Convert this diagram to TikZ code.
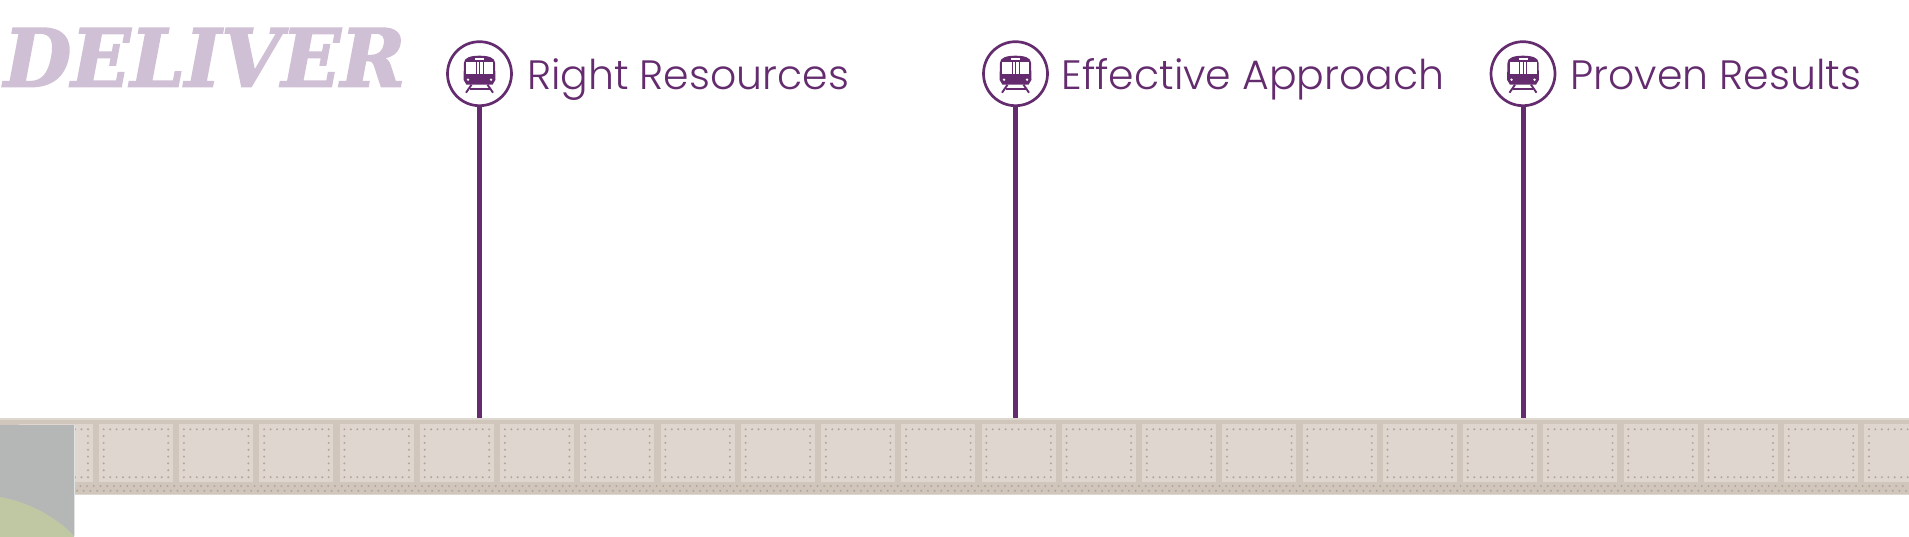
\documentclass[tikz,border=0pt]{standalone}
\usepackage{fontspec}
\newfontfamily\stopfont{Poppins Light}
\newfontfamily\slabfont[BoldItalicFeatures={FakeBold=2.2,FakeStretch=0.97}]{DejaVu Serif}
\usetikzlibrary{positioning}
\definecolor{plum}{HTML}{642C6E}
\definecolor{titlelilac}{HTML}{CFC0D5}
\definecolor{trackbase}{HTML}{D0C6BC}
\definecolor{trackpanel}{HTML}{DED6CF}
\definecolor{trackdot}{HTML}{B2A69A}
\definecolor{blockgrey}{HTML}{B5B7B7}
\definecolor{blockgreen}{HTML}{BFC8A3}

\begin{document}
\begin{tikzpicture}[
    x=1pt, y=-1pt,
    every node/.style={inner sep=0pt, outer sep=0pt},
    stopbox/.style={circle, draw=plum, line width=2.7pt, fill=white, minimum size=64pt},
    stoplabel/.style={font=\stopfont\fontsize{41}{41}\selectfont, text=plum, text height=40pt, text depth=8pt, anchor=west},
    stem/.style={plum, line width=5pt},
    rivets/.style={trackdot, line width=2.2pt, line cap=round},
    traintrain/.pic={
        \fill[plum] (-15.5,-11) .. controls (-15.5,-16) and (-9,-18) .. (0,-18) .. controls (9,-18) and (15.5,-16) .. (15.5,-11) -- (16,6) -- (13,11) -- (-13,11) -- (-16,6) -- cycle;
        \fill[white] (-13.5,-12) rectangle (-4,0);
        \fill[white] (-3,-12) rectangle (3,0);
        \fill[white] (4,-12) rectangle (13.5,0);
        \fill[plum] (-0.5,-12) rectangle (0.5,0);
        \fill[white] (-4.5,-15.8) rectangle (4.5,-13.6);
        \fill[white] (-11.5,6) circle (1.3);
        \fill[white] (11.5,6) circle (1.3);
        \draw[plum, line width=1.9pt] (-8,11) -- (-13.5,19);
        \draw[plum, line width=1.9pt] (8,11) -- (13.5,19);
        \draw[plum, line width=1.6pt] (-10,15.5) -- (10,15.5);
    }
]
\useasboundingbox (0,0) rectangle (1909,536);
\fill[white] (0,0) rectangle (1909,536);

% track
\node[rectangle, fill=trackbase, minimum width=1909pt, minimum height=77pt, anchor=north west] (track) at (0,418) {};
\fill[trackbase!70!white] (0,418) rectangle (1909,420);
\fill[trackbase!70!white] (0,493.5) rectangle (1909,495);
\foreach \i in {-1,...,23}{
    \fill[trackpanel] (99+80.24*\i,424) rectangle +(74,58);
    \draw[rivets, dash pattern=on 0pt off 6.45pt] (103.7+80.24*\i,429.3) -- +(66,0);
    \draw[rivets, dash pattern=on 0pt off 6.45pt] (103.7+80.24*\i,477.2) -- +(66,0);
    \draw[rivets, dash pattern=on 0pt off 6.82pt] (103.7+80.24*\i,436.1) -- +(0,36);
    \draw[rivets, dash pattern=on 0pt off 6.82pt] (168.2+80.24*\i,436.1) -- +(0,36);
}
\draw[rivets, dash pattern=on 0pt off 6.7pt] (0,486) -- (1909,486);
\draw[rivets, dash pattern=on 0pt off 6.7pt] (3.3,490.8) -- (1909,490.8);

% corner block
\fill[blockgrey] (0,424.5) rectangle (74,536);
\begin{scope}
    \clip (0,424.5) rectangle (74,536);
    \fill[blockgreen] (-25,634.7) circle (140);
\end{scope}
\fill[blockgrey!40!white] (74,424.5) rectangle (75,536);

\node[font=\slabfont\bfseries\itshape\fontsize{80}{80}\selectfont, text=titlelilac, anchor=base west] (title) at (4,86.5) {DELIVER};

\node[stopbox] (stop1) at (479.5,73.7) {};
\node[stopbox] (stop2) at (1015.5,73.7) {};
\node[stopbox] (stop3) at (1523,73.7) {};
\pic at (stop1) {traintrain};
\pic at (stop2) {traintrain};
\pic at (stop3) {traintrain};
\node[stoplabel, right=15.5pt of stop1] (label1) {Right Resources};
\node[stoplabel, right=14pt of stop2] (label2) {Effective Approach};
\node[stoplabel, right=15.5pt of stop3] (label3) {Proven Results};
\draw[stem] (stop1.south) -- (stop1.south |- track.north);
\draw[stem] (stop2.south) -- (stop2.south |- track.north);
\draw[stem] (stop3.south) -- (stop3.south |- track.north);
\end{tikzpicture}
\end{document}
